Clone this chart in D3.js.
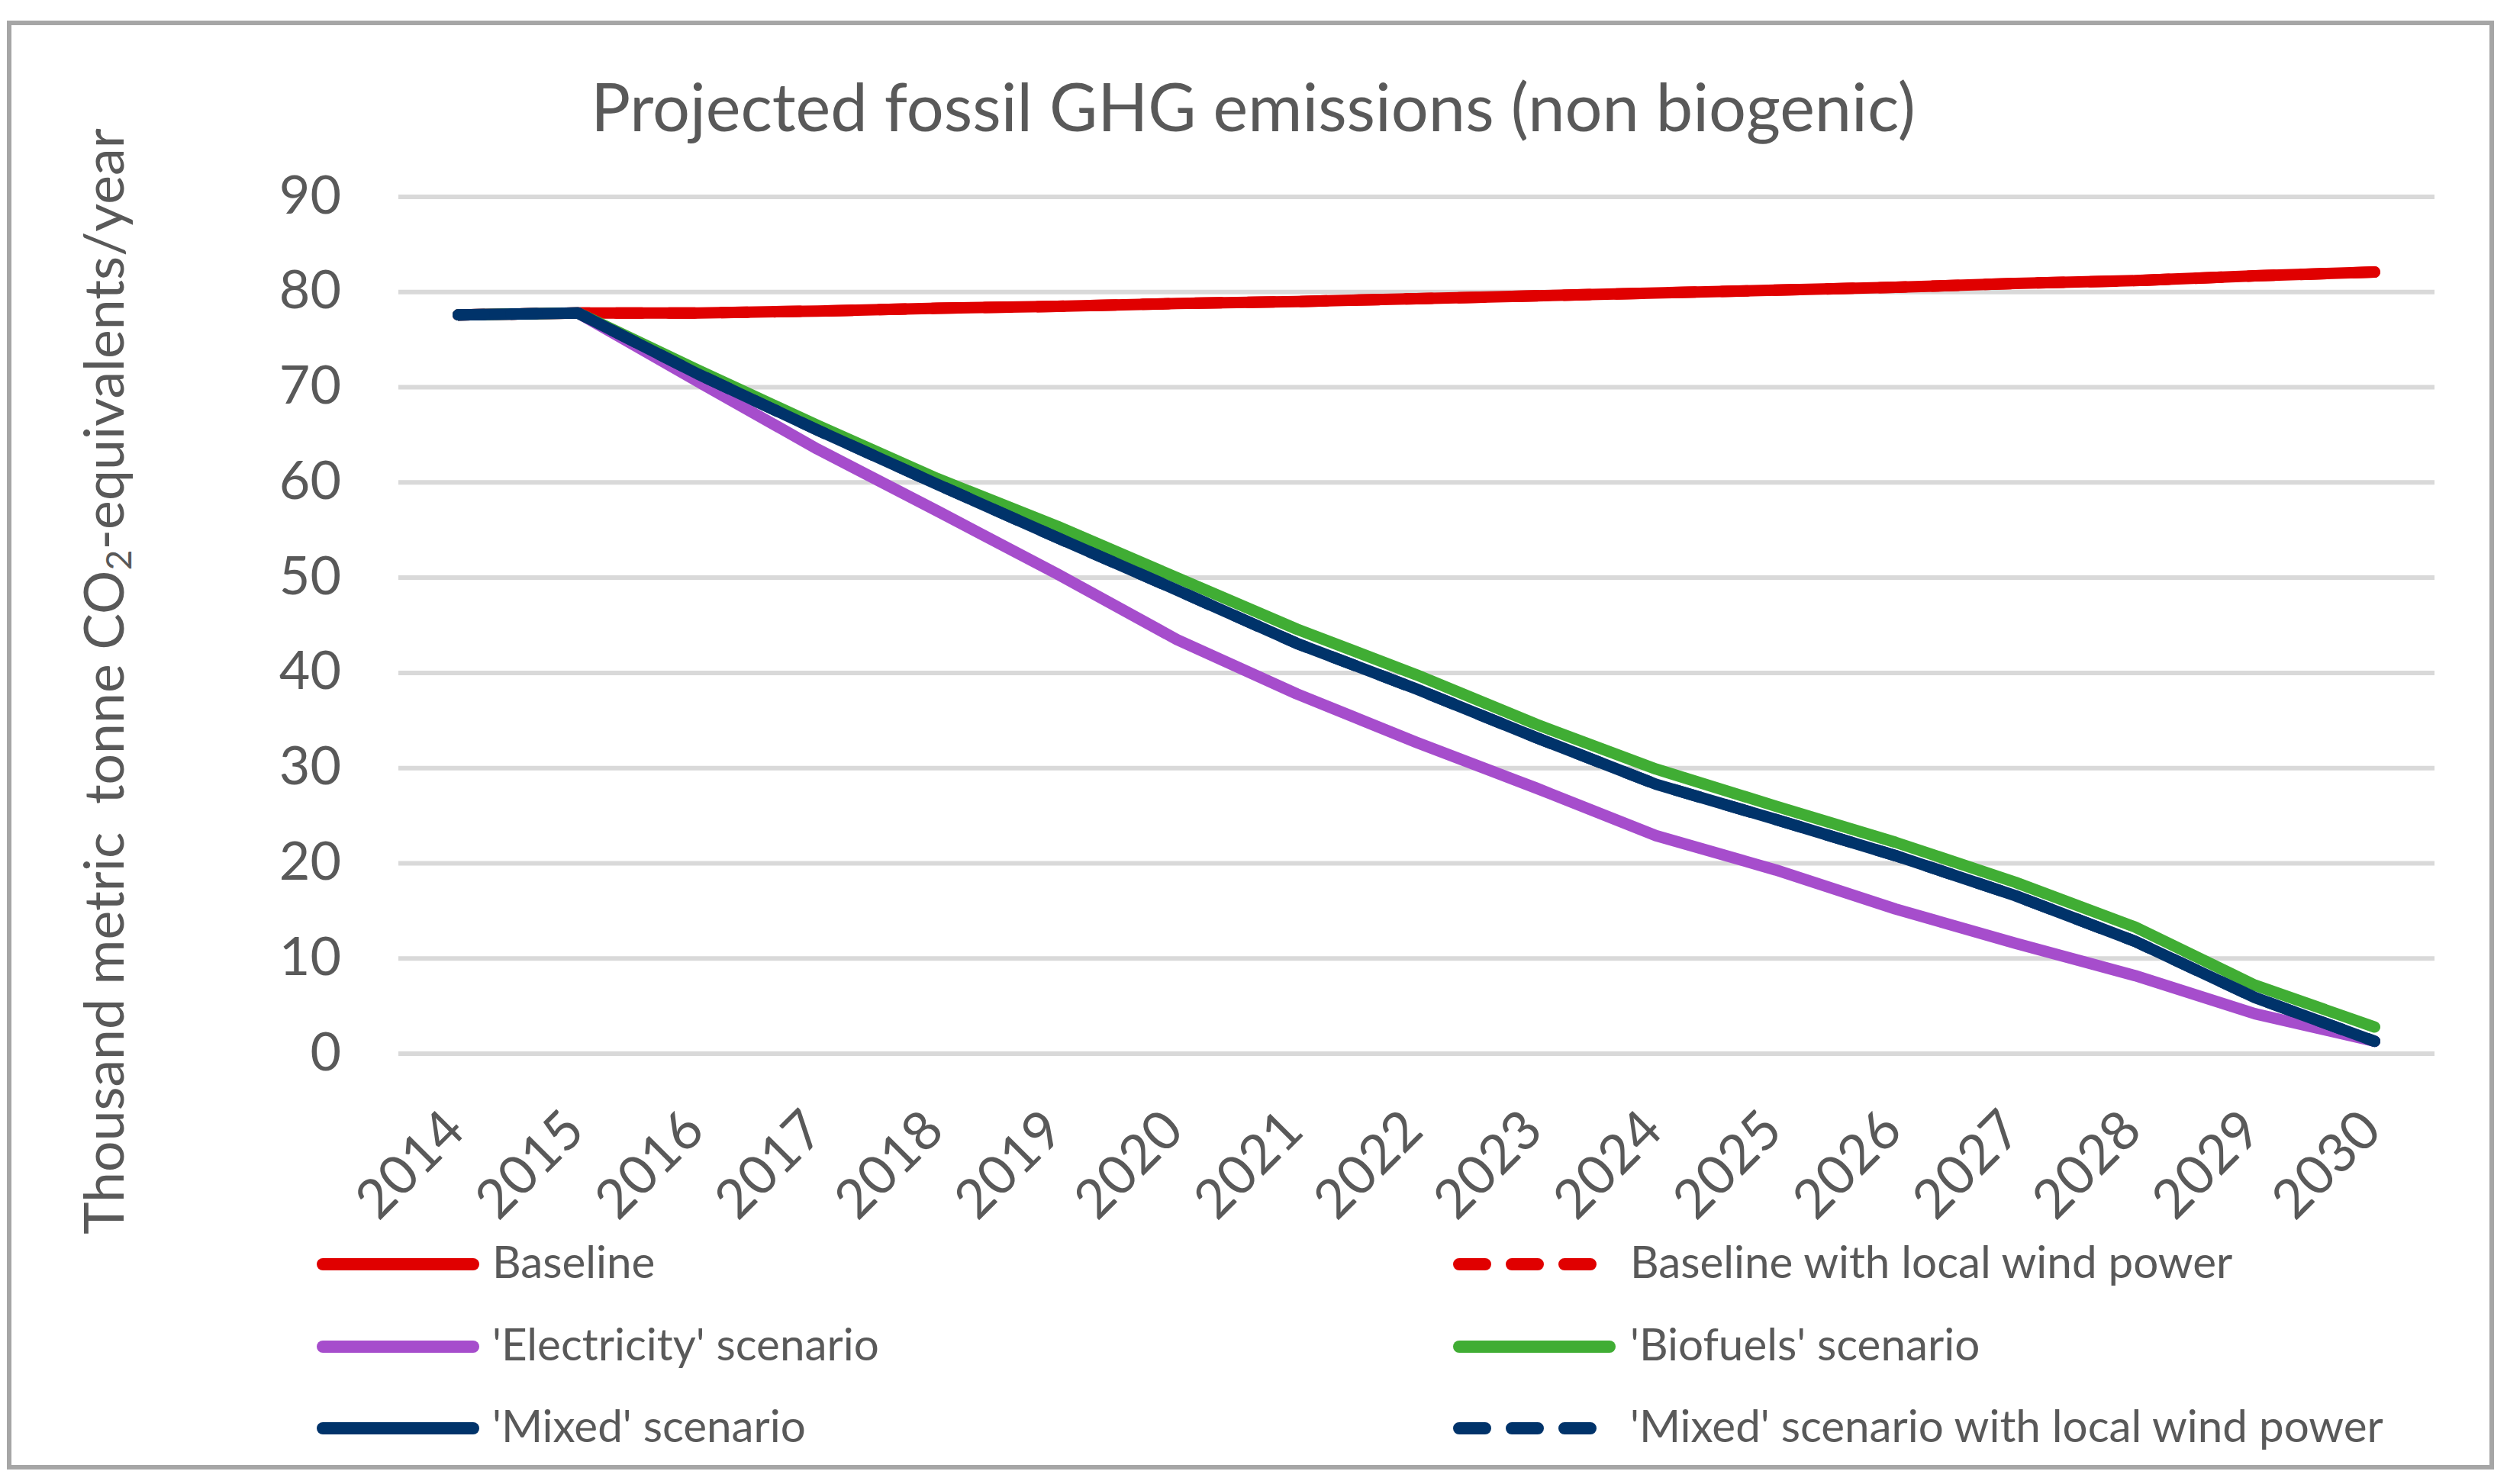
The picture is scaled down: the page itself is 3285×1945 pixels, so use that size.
<!DOCTYPE html>
<html>
<head>
<meta charset="utf-8">
<script src="https://cdn.jsdelivr.net/npm/d3@7"></script>
<style>
  body { margin: 0; background: #fff; }
  text { font-family: Lato, "Open Sans", sans-serif; fill: #595959; }
</style>
</head>
<body>
<div id="chart"></div>
<script>
// values (thousand tonne CO2-eq / year)
var years = ["2014", "2015", "2016", "2017", "2018", "2019", "2020", "2021", "2022",
             "2023", "2024", "2025", "2026", "2027", "2028", "2029", "2030"];
var baseline     = [77.6, 77.8, 77.8, 78.0, 78.3, 78.5, 78.8, 79.0, 79.3, 79.6, 79.9, 80.2, 80.5, 80.9, 81.2, 81.7, 82.1];
var baselineWind = [77.6, 77.8, 77.8, 78.0, 78.3, 78.5, 78.8, 79.0, 79.3, 79.6, 79.9, 80.2, 80.5, 80.9, 81.2, 81.7, 82.1];
var electricity  = [77.6, 77.8, 70.6, 63.5, 57.0, 50.4, 43.5, 37.8, 32.7, 27.9, 22.9, 19.3, 15.2, 11.6, 8.2, 4.2, 1.3];
var biofuels     = [77.6, 77.8, 71.8, 66.0, 60.4, 55.4, 50.0, 44.6, 39.8, 34.6, 29.9, 26.0, 22.2, 18.0, 13.3, 7.2, 2.8];
var mixed        = [77.6, 77.8, 71.4, 65.5, 59.8, 54.2, 48.7, 43.1, 38.3, 33.2, 28.3, 24.6, 20.8, 16.6, 11.8, 5.9, 1.3];
var mixedWind    = [77.6, 77.8, 71.4, 65.5, 59.8, 54.2, 48.7, 43.1, 38.3, 33.2, 28.3, 24.6, 20.8, 16.6, 11.8, 5.9, 1.3];
var yTicks = [0, 10, 20, 30, 40, 50, 60, 70, 80, 90];

var seriesNames = ["Baseline", "Baseline with local wind power", "'Electricity' scenario",
                   "'Biofuels' scenario", "'Mixed' scenario", "'Mixed' scenario with local wind power"];
var seriesValues = [baseline, baselineWind, electricity, biofuels, mixed, mixedWind];
var seriesColors = ["#e00000", "#e00000", "#a64dcc", "#40ad34", "#00336a", "#00336a"];
var seriesDashed = [false, true, false, false, false, true];

var W = 3285, H = 1945;
var plot = { left: 522, right: 3190, top: 258, bottom: 1381 };

var svg = d3.select("#chart").append("svg")
    .attr("width", W).attr("height", H)
    .attr("viewBox", [0, 0, W, H]);

svg.append("rect")
    .attr("x", 12).attr("y", 30)
    .attr("width", 3253).attr("height", 1893)
    .attr("fill", "#fff")
    .attr("stroke", "#a6a6a6").attr("stroke-width", 6);

var x = d3.scaleBand().domain(years).range([plot.left, plot.right]);
var xc = function (d) { return x(d) + x.bandwidth() / 2; };
var y = d3.scaleLinear().domain([0, 90]).range([plot.bottom, plot.top]);

// gridlines
svg.append("g")
    .selectAll("line")
    .data(yTicks)
    .enter().append("line")
    .attr("x1", plot.left).attr("x2", plot.right)
    .attr("y1", function (d) { return y(d); })
    .attr("y2", function (d) { return y(d); })
    .attr("stroke", "#d9d9d9").attr("stroke-width", 6);

// y axis labels
var yAxis = svg.append("g")
    .attr("transform", "translate(447,0)")
    .call(d3.axisLeft(y).tickValues(yTicks).tickSize(0).tickPadding(0));
yAxis.select(".domain").remove();
yAxis.selectAll("text")
    .attr("font-family", null)
    .style("font-size", "70px")
    .attr("dy", "0.3em");

// x axis labels, rotated
svg.append("g")
    .selectAll("text")
    .data(years)
    .enter().append("text")
    .attr("transform", function (d) { return "translate(" + (xc(d) + 12) + "," + (plot.bottom + 104) + ") rotate(-45)"; })
    .attr("text-anchor", "end")
    .style("font-size", "71px")
    .text(function (d) { return d; });

// series
var line = d3.line()
    .x(function (d, i) { return xc(years[i]); })
    .y(function (d) { return y(d); });

svg.append("g")
    .selectAll("path")
    .data(seriesValues)
    .enter().append("path")
    .attr("d", line)
    .attr("fill", "none")
    .attr("stroke", function (d, i) { return seriesColors[i]; })
    .attr("stroke-width", 15)
    .attr("stroke-linejoin", "round")
    .attr("stroke-linecap", "round")
    .attr("stroke-dasharray", function (d, i) { return seriesDashed[i] ? "34,35" : null; });

function fitWidth(sel, target) {
    var w = sel.node().getComputedTextLength();
    var fs = parseFloat(sel.style("font-size"));
    var nfs = fs * target / w;
    sel.style("font-size", nfs + "px");
    return nfs;
}

// title
var title = svg.append("text")
    .attr("x", 1642).attr("y", 172)
    .attr("text-anchor", "middle")
    .style("font-size", "86px")
    .text("Projected fossil GHG emissions (non biogenic)");
fitWidth(title, 1736);

// y axis title with subscript
var yTitle = svg.append("text")
    .attr("transform", "translate(162,893) rotate(-90)")
    .attr("text-anchor", "middle")
    .style("font-size", "72px")
    .style("white-space", "pre");
yTitle.append("tspan").text("Thousand metric  tonne CO");
yTitle.append("tspan").attr("baseline-shift", "-22%").style("font-size", "0.65em").text("2");
yTitle.append("tspan").text("-equivalents/year");
fitWidth(yTitle, 1450);

// legend
var legendX = [415, 1904];
var legendY = [1657, 1765, 1872];
var legend = svg.append("g")
    .selectAll("g")
    .data(seriesNames)
    .enter().append("g")
    .attr("transform", function (d, i) {
        return "translate(" + legendX[i % 2] + "," + legendY[Math.floor(i / 2)] + ")";
    });

legend.append("line")
    .attr("x1", 8)
    .attr("x2", function (d, i) { return seriesDashed[i] ? 180 : 205; })
    .attr("y1", 0).attr("y2", 0)
    .attr("stroke", function (d, i) { return seriesColors[i]; })
    .attr("stroke-width", 16)
    .attr("stroke-linecap", "round")
    .attr("stroke-dasharray", function (d, i) { return seriesDashed[i] ? "34,35" : null; });

var legendText = legend.append("text")
    .attr("x", function (d, i) { return i % 2 ? 232 : 230; })
    .attr("y", 18)
    .style("font-size", "56px")
    .text(function (d) { return d; });

var lfs = fitWidth(d3.select(legendText.nodes()[5]), 987);
legendText.style("font-size", lfs + "px");
</script>
</body>
</html>
